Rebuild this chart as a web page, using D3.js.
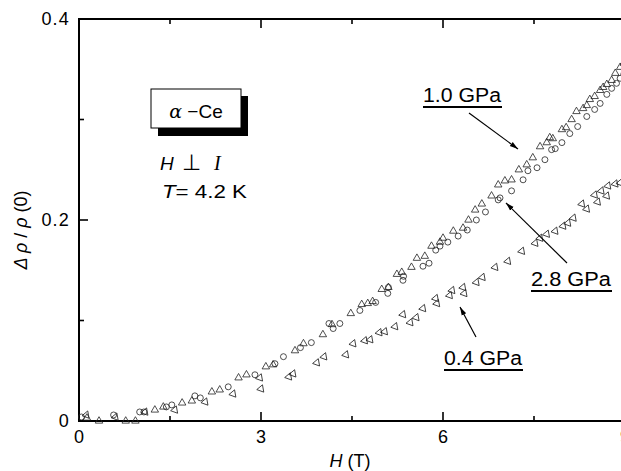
<!DOCTYPE html>
<html>
<head>
<meta charset="utf-8">
<script src="https://cdn.jsdelivr.net/npm/d3@7"></script>
<style>
  body { margin: 0; background: #fff; }
  svg { font-family: "Liberation Sans", Arial, sans-serif; }
</style>
</head>
<body>
<div id="chart"></div>
<script>
// field H (T) and delta rho / rho(0)
var gpa10 = [[0.13,0.003],[0.33,0],[0.77,0],[0.93,0],[1.25,0.011],[1.39,0.014],[1.7,0.018],[1.86,0.02],
  [2.19,0.029],[2.32,0.031],[2.63,0.043],[2.76,0.046],[3.08,0.054],[3.2,0.056],[3.56,0.07],[3.7,0.077],
  [4.02,0.086],[4.17,0.096],[4.48,0.107],[4.66,0.116],[4.76,0.117],[4.84,0.119],[4.99,0.131],[5.1,0.133],
  [5.24,0.146],[5.32,0.148],[5.48,0.153],[5.57,0.162],[5.7,0.164],[5.81,0.174],[5.95,0.178],[6.0,0.182],
  [6.17,0.189],[6.33,0.192],[6.42,0.2],[6.53,0.21],[6.64,0.216],[6.8,0.224],[6.91,0.235],[7.02,0.239],
  [7.13,0.24],[7.25,0.25],[7.38,0.255],[7.48,0.262],[7.6,0.273],[7.71,0.277],[7.76,0.282],[7.81,0.281],
  [7.96,0.29],[8.03,0.292],[8.12,0.3],[8.2,0.308],[8.31,0.311],[8.37,0.314],[8.42,0.32],[8.5,0.323],
  [8.59,0.329],[8.64,0.332],[8.7,0.335],[8.78,0.339],[8.84,0.346],[8.92,0.352],[8.98,0.356]];

var gpa28 = [[0.04,0.004],[0.57,0.006],[1.0,0.009],[1.07,0.009],[1.44,0.014],[1.53,0.016],[1.91,0.025],
  [2.0,0.023],[2.46,0.034],[2.9,0.046],[3.23,0.057],[3.37,0.064],[3.65,0.073],[3.83,0.078],[4.12,0.097],
  [4.19,0.092],[4.3,0.097],[4.63,0.11],[4.89,0.118],[5.09,0.127],[5.1,0.133],[5.34,0.14],[5.35,0.144],
  [5.67,0.154],[5.77,0.157],[5.88,0.17],[5.95,0.174],[6.08,0.178],[6.25,0.184],[6.4,0.19],[6.55,0.2],
  [6.7,0.208],[6.91,0.22],[6.94,0.222],[7.13,0.229],[7.32,0.24],[7.4,0.249],[7.55,0.252],[7.68,0.26],
  [7.79,0.27],[7.85,0.271],[7.96,0.277],[8.09,0.286],[8.22,0.293],[8.37,0.303],[8.5,0.31],[8.59,0.316],
  [8.7,0.325],[8.78,0.331],[8.86,0.336],[8.92,0.341],[8.98,0.345]];

var gpa04 = [[0.12,0.006],[0.6,0.004],[1.09,0.009],[1.58,0.011],[2.08,0.019],[2.54,0.027],[2.98,0.043],
  [3.0,0.032],[3.46,0.044],[3.53,0.047],[3.92,0.058],[4.04,0.064],[4.4,0.066],[4.52,0.077],[4.71,0.08],
  [4.8,0.081],[4.95,0.088],[5.04,0.089],[5.21,0.094],[5.34,0.106],[5.46,0.098],[5.56,0.103],[5.67,0.112],
  [5.88,0.122],[5.9,0.117],[6.11,0.125],[6.15,0.13],[6.33,0.133],[6.35,0.127],[6.55,0.138],[6.65,0.143],
  [6.86,0.153],[7.07,0.159],[7.3,0.169],[7.52,0.177],[7.6,0.182],[7.71,0.186],[7.85,0.189],[7.98,0.194],
  [8.06,0.197],[8.15,0.202],[8.29,0.216],[8.37,0.211],[8.5,0.225],[8.55,0.218],[8.61,0.229],[8.7,0.224],
  [8.72,0.234],[8.84,0.236],[8.92,0.237]];

var xMajor = [0, 3, 6, 9];
var xMinor = [1.5, 4.5, 7.5];
var yMajor = [0, 0.2, 0.4];
var yMinor = [0.1, 0.3];
var yLabels = ["0", "0.2", "0.4"];

var W = 621, H = 471;
var svg = d3.select("#chart").append("svg").attr("width", W).attr("height", H);

var x = d3.scaleLinear().domain([0, 9]).range([79, 625]);
var y = d3.scaleLinear().domain([0, 0.4]).range([421, 19]);

var ax = svg.append("g").attr("stroke", "#000").attr("stroke-width", 2).attr("fill", "none");
ax.append("line").attr("x1", x(0)).attr("x2", W).attr("y1", y(0)).attr("y2", y(0));
ax.append("line").attr("x1", x(0)).attr("x2", W).attr("y1", y(0.4)).attr("y2", y(0.4));
ax.append("line").attr("x1", x(0)).attr("x2", x(0)).attr("y1", y(0) + 1).attr("y2", y(0.4) - 1);

// inward ticks on bottom, top and left
xMajor.concat(xMinor).forEach(function(v) {
  var len = xMajor.indexOf(v) >= 0 ? 9 : 5;
  if (v === 0) return;
  ax.append("line").attr("x1", x(v)).attr("x2", x(v)).attr("y1", y(0)).attr("y2", y(0) - len).attr("stroke-width", 1.6);
  ax.append("line").attr("x1", x(v)).attr("x2", x(v)).attr("y1", y(0.4)).attr("y2", y(0.4) + len).attr("stroke-width", 1.6);
});
yMajor.concat(yMinor).forEach(function(v) {
  var len = yMajor.indexOf(v) >= 0 ? 9 : 5;
  if (v === 0 || v === 0.4) return;
  ax.append("line").attr("x1", x(0)).attr("x2", x(0) + len).attr("y1", y(v)).attr("y2", y(v)).attr("stroke-width", 1.6);
});

svg.selectAll(".xl").data(xMajor).enter().append("text")
  .attr("x", function(d) { return x(d); }).attr("y", 443)
  .attr("text-anchor", "middle").attr("font-size", 18).text(function(d) { return d; });
svg.selectAll(".yl").data(yMajor).enter().append("text")
  .attr("x", 70).attr("y", function(d) { return y(d) + 6; })
  .attr("text-anchor", "end").attr("font-size", 18).attr("letter-spacing", 1.2)
  .text(function(d, i) { return yLabels[i]; });

svg.append("text").attr("x", 350).attr("y", 467).attr("text-anchor", "middle").attr("font-size", 18)
  .html('<tspan font-style="italic">H</tspan> (T)');
svg.append("text").attr("transform", "translate(27,230) rotate(-90)").attr("text-anchor", "middle")
  .attr("font-size", 18)
  .html('<tspan font-style="italic">Δ ρ</tspan> / <tspan font-style="italic">ρ</tspan> (0)');

// markers
var marks = svg.append("g").attr("fill", "none").attr("stroke", "#222").attr("stroke-width", 0.8);
var tri = d3.symbol().type(d3.symbolTriangle).size(24);
var circ = d3.symbol().type(d3.symbolCircle).size(28);

marks.selectAll(".t").data(gpa10).enter().append("path").attr("d", tri)
  .attr("transform", function(d) { return "translate(" + x(d[0]) + "," + y(d[1]) + ")"; });
marks.selectAll(".c").data(gpa28).enter().append("path").attr("d", circ)
  .attr("transform", function(d) { return "translate(" + x(d[0]) + "," + y(d[1]) + ")"; });
marks.selectAll(".l").data(gpa04).enter().append("path").attr("d", tri)
  .attr("transform", function(d) { return "translate(" + x(d[0]) + "," + y(d[1]) + ") rotate(-100)"; });

// alpha-Ce box with shadow
svg.append("rect").attr("x", 158).attr("y", 96).attr("width", 90).attr("height", 40).attr("fill", "#000");
svg.append("rect").attr("x", 151).attr("y", 89).attr("width", 90).attr("height", 39)
  .attr("fill", "#fff").attr("stroke", "#000").attr("stroke-width", 1);
svg.append("text").attr("x", 196).attr("y", 118).attr("text-anchor", "middle").attr("font-size", 19)
  .html('<tspan font-family="DejaVu Serif" font-style="italic">α</tspan> −Ce');

var hi = svg.append("text").attr("y", 170).attr("font-size", 19);
hi.append("tspan").attr("x", 160).attr("font-style", "italic").text("H");
hi.append("tspan").attr("x", 182).attr("font-size", 22).text("⊥");
hi.append("tspan").attr("x", 214).attr("font-family", "Liberation Serif").attr("font-style", "italic").attr("font-size", 20).text("I");
svg.append("text").attr("x", 162).attr("y", 198).attr("font-size", 18)
  .attr("textLength", 85).attr("lengthAdjust", "spacingAndGlyphs")
  .html('<tspan font-style="italic">T</tspan>= 4.2 K');

// pressure labels and arrows
svg.append("defs").append("marker").attr("id", "ah").attr("viewBox", "0 0 10 10")
  .attr("refX", 10).attr("refY", 5).attr("markerWidth", 7).attr("markerHeight", 7)
  .attr("orient", "auto").append("path").attr("d", "M0,2 L10,5 L0,8 Z").attr("fill", "#000");

var labels = [
  { t: "1.0 GPa", x: 423, y: 102, w: 79, ax1: 469, ay1: 113, ax2: 518, ay2: 149 },
  { t: "2.8 GPa", x: 531, y: 286, w: 81, ax1: 567, ay1: 263, ax2: 506, ay2: 203 },
  { t: "0.4 GPa", x: 444, y: 365, w: 79, ax1: 476, ay1: 337, ax2: 460, ay2: 307 }
];
labels.forEach(function(d) {
  svg.append("text").attr("x", d.x).attr("y", d.y).attr("font-size", 20)
    .attr("textLength", d.w - 1).attr("lengthAdjust", "spacingAndGlyphs").text(d.t);
  svg.append("line").attr("x1", d.x).attr("x2", d.x + d.w).attr("y1", d.y + 5).attr("y2", d.y + 5)
    .attr("stroke", "#000").attr("stroke-width", 2);
  svg.append("line").attr("x1", d.ax1).attr("y1", d.ay1).attr("x2", d.ax2).attr("y2", d.ay2)
    .attr("stroke", "#000").attr("stroke-width", 1.2).attr("marker-end", "url(#ah)");
});
</script>
</body>
</html>
